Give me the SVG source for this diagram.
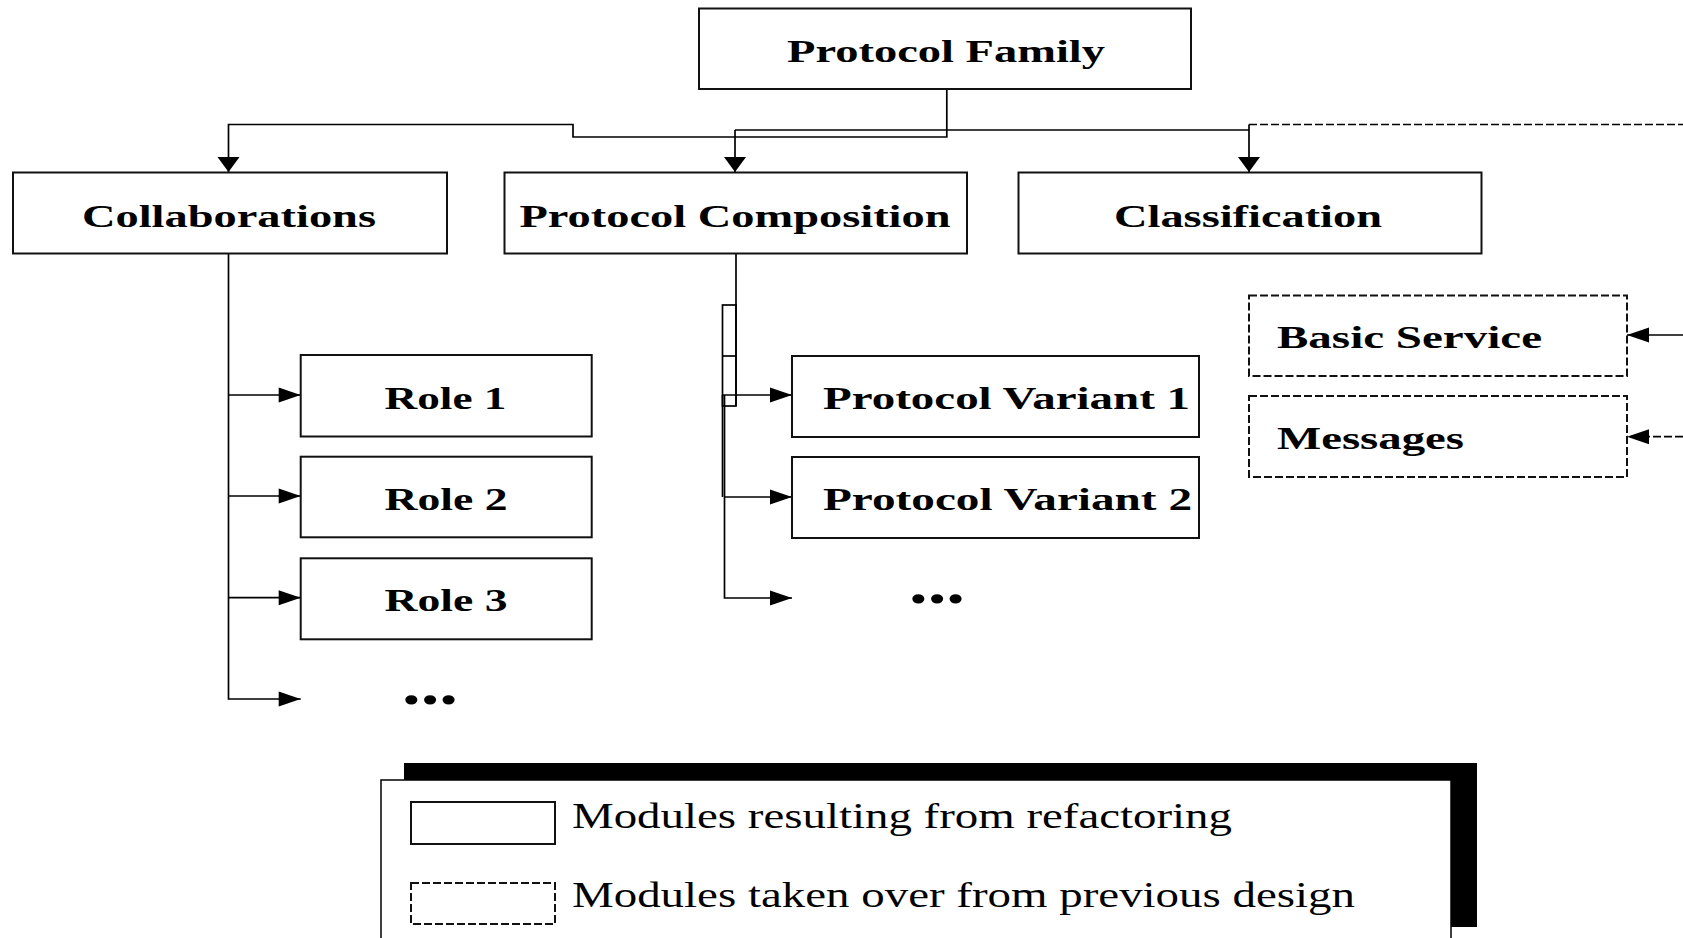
<svg xmlns="http://www.w3.org/2000/svg" width="1683" height="938" viewBox="0 0 1683 938">
<style>
.box{fill:#fff;stroke:#111;stroke-width:2}
.dbox{fill:#fff;stroke:#111;stroke-width:2;stroke-dasharray:8 3}
.ln{fill:none;stroke:#000;stroke-width:1.7}
.dl{fill:none;stroke:#000;stroke-width:1.7;stroke-dasharray:8 3}
.lb{font-family:"Liberation Serif","Times New Roman",serif;font-weight:bold;font-size:32px;fill:#000}
.lg{font-family:"Liberation Serif","Times New Roman",serif;font-size:35px;fill:#000}
.dots{font-family:"Liberation Serif","Times New Roman",serif;font-weight:bold;font-size:56px;fill:#000}
</style>
<defs>
<marker id="arrH" markerUnits="userSpaceOnUse" markerWidth="22" markerHeight="15" refX="22" refY="7.5" orient="auto" overflow="visible">
<path d="M0,0 L22,7.5 L0,15 z" fill="#000"/>
</marker>
<marker id="arrD" markerUnits="userSpaceOnUse" markerWidth="15" markerHeight="22" refX="15" refY="11" orient="auto" overflow="visible">
<path d="M0,0 L15,11 L0,22 z" fill="#000"/>
</marker>
</defs>
<rect width="1683" height="938" fill="#fff"/>

<g id="connectors">
<path class="ln" d="M946.8,89 V137 H573 V124.5 H228.5 V172" marker-end="url(#arrD)"/>
<path class="ln" d="M735,130 H1249"/>
<path class="ln" d="M735,130 V172" marker-end="url(#arrD)"/>
<path class="ln" d="M1249,124.5 V172" marker-end="url(#arrD)"/>
<path class="dl" d="M1249,124.5 H1683"/>
<path class="ln" d="M1683,335 H1627" marker-end="url(#arrH)"/>
<path class="dl" d="M1683,436.7 H1627" marker-end="url(#arrH)"/>
<path class="ln" d="M228.5,254 V699 H300.7" marker-end="url(#arrH)"/>
<path class="ln" d="M228.5,395 H300.7" marker-end="url(#arrH)"/>
<path class="ln" d="M228.5,496 H300.7" marker-end="url(#arrH)"/>
<path class="ln" d="M228.5,597.7 H300.7" marker-end="url(#arrH)"/>
<path class="ln" d="M736,254 V406"/>
<rect class="ln" x="722.5" y="305" width="13.5" height="101"/>
<path class="ln" d="M722.5,356 H736"/>
<path class="ln" d="M722.5,395 V497"/>
<path class="ln" d="M724.5,395 V598 H792" marker-end="url(#arrH)"/>
<path class="ln" d="M722.5,395 H792" marker-end="url(#arrH)"/>
<path class="ln" d="M724.5,497 H792" marker-end="url(#arrH)"/>
</g>

<g id="protocol-family">
<rect class="box" x="699" y="8.5" width="492" height="80.5"/>
<text class="lb" x="787" y="61.5" textLength="318" lengthAdjust="spacingAndGlyphs">Protocol Family</text>
</g>
<g id="collaborations">
<rect class="box" x="13" y="172.5" width="434" height="81"/>
<text class="lb" x="82" y="227" textLength="294" lengthAdjust="spacingAndGlyphs">Collaborations</text>
</g>
<g id="protocol-composition">
<rect class="box" x="504.5" y="172.5" width="462.5" height="81"/>
<text class="lb" x="519.5" y="227" textLength="431" lengthAdjust="spacingAndGlyphs">Protocol Composition</text>
</g>
<g id="classification">
<rect class="box" x="1018.5" y="172.5" width="463" height="81"/>
<text class="lb" x="1114" y="227" textLength="268" lengthAdjust="spacingAndGlyphs">Classification</text>
</g>
<g id="basic-service">
<rect class="dbox" x="1249" y="295.5" width="378" height="80.5"/>
<text class="lb" x="1277" y="348" textLength="265" lengthAdjust="spacingAndGlyphs">Basic Service</text>
</g>
<g id="messages">
<rect class="dbox" x="1249" y="396" width="378" height="81"/>
<text class="lb" x="1277" y="448.5" textLength="187" lengthAdjust="spacingAndGlyphs">Messages</text>
</g>
<g id="role1">
<rect class="box" x="300.7" y="355" width="291" height="81.5"/>
<text class="lb" x="384.5" y="408.5" textLength="122" lengthAdjust="spacingAndGlyphs">Role 1</text>
</g>
<g id="role2">
<rect class="box" x="300.7" y="456.7" width="291" height="80.6"/>
<text class="lb" x="384.5" y="510" textLength="123" lengthAdjust="spacingAndGlyphs">Role 2</text>
</g>
<g id="role3">
<rect class="box" x="300.7" y="558.3" width="291" height="81"/>
<text class="lb" x="384.5" y="611" textLength="123" lengthAdjust="spacingAndGlyphs">Role 3</text>
</g>
<g id="role-more">
<text class="dots" x="402" y="704" textLength="56" lengthAdjust="spacingAndGlyphs">...</text>
</g>
<g id="variant1">
<rect class="box" x="792" y="356" width="407" height="81"/>
<text class="lb" x="823" y="408.5" textLength="367" lengthAdjust="spacingAndGlyphs">Protocol Variant 1</text>
</g>
<g id="variant2">
<rect class="box" x="792" y="457" width="407" height="81"/>
<text class="lb" x="823" y="509.5" textLength="369" lengthAdjust="spacingAndGlyphs">Protocol Variant 2</text>
</g>
<g id="variant-more">
<text class="dots" x="909" y="603" textLength="56" lengthAdjust="spacingAndGlyphs">...</text>
</g>

<g id="legend">
<rect x="404" y="763" width="1073" height="164" fill="#000"/>
<rect x="381" y="780" width="1070" height="170" fill="#fff" stroke="#000" stroke-width="1.5"/>
<rect class="box" x="411" y="802" width="144" height="42"/>
<text class="lg" x="572" y="828" textLength="660" lengthAdjust="spacingAndGlyphs">Modules resulting from refactoring</text>
<rect class="dbox" x="411" y="883" width="144" height="41"/>
<text class="lg" x="572" y="907" textLength="783" lengthAdjust="spacingAndGlyphs">Modules taken over from previous design</text>
</g>
</svg>
